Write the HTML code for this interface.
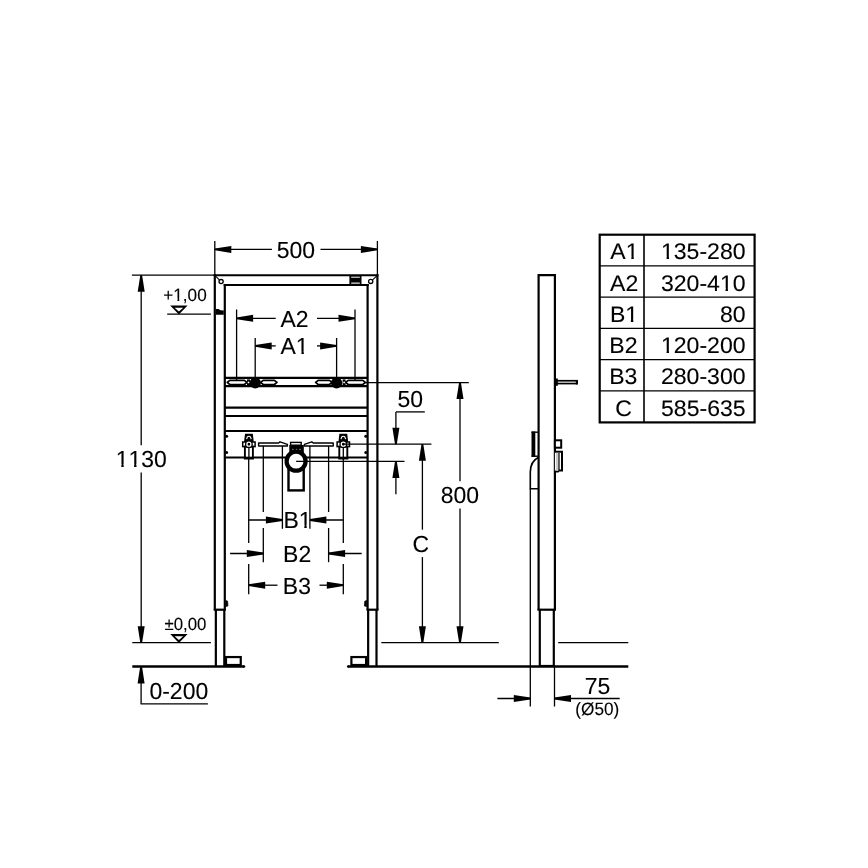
<!DOCTYPE html>
<html><head><meta charset="utf-8"><style>
html,body{margin:0;padding:0;background:#fff;width:868px;height:868px;overflow:hidden}
svg{display:block}
text{font-family:"Liberation Sans",sans-serif;fill:#000;font-kerning:none;font-feature-settings:"kern" 0;stroke:#000;stroke-width:0.12px;stroke-linejoin:round;text-rendering:geometricPrecision}
</style></head><body>
<svg width="868" height="868" viewBox="0 0 868 868" stroke="#000" fill="none" stroke-linecap="butt">
<defs><mask id="ft" maskUnits="userSpaceOnUse" x="0" y="0" width="868" height="868"><rect x="0" y="0" width="868" height="868" fill="#fff" stroke="none"/><rect transform="translate(115.72,466.73) scale(0.9900,1)" x="0.79" y="-2.66" width="4.84" height="5.66" fill="#000" stroke="none"/><rect transform="translate(115.72,466.73) scale(0.9900,1)" x="8.09" y="-2.66" width="4.66" height="5.66" fill="#000" stroke="none"/><rect transform="translate(115.72,466.73) scale(0.9900,1)" x="13.70" y="-2.66" width="4.84" height="5.66" fill="#000" stroke="none"/><rect transform="translate(115.72,466.73) scale(0.9900,1)" x="20.99" y="-2.66" width="4.66" height="5.66" fill="#000" stroke="none"/><rect transform="translate(163.27,300.53) scale(0.9700,1)" x="10.94" y="-2.03" width="3.69" height="5.03" fill="#000" stroke="none"/><rect transform="translate(163.27,300.53) scale(0.9700,1)" x="16.51" y="-2.03" width="3.55" height="5.03" fill="#000" stroke="none"/><rect transform="translate(283.40,527.83) scale(0.9900,1)" x="16.27" y="-2.66" width="4.84" height="5.66" fill="#000" stroke="none"/><rect transform="translate(283.40,527.83) scale(0.9900,1)" x="23.56" y="-2.66" width="4.66" height="5.66" fill="#000" stroke="none"/><rect transform="translate(280.52,354.08) scale(0.9900,1)" x="16.27" y="-2.66" width="4.84" height="5.66" fill="#000" stroke="none"/><rect transform="translate(280.52,354.08) scale(0.9900,1)" x="23.56" y="-2.66" width="4.66" height="5.66" fill="#000" stroke="none"/><rect transform="translate(610.37,259.32) scale(1.0200,1)" x="15.85" y="-2.59" width="4.71" height="5.59" fill="#000" stroke="none"/><rect transform="translate(610.37,259.32) scale(1.0200,1)" x="22.95" y="-2.59" width="4.54" height="5.59" fill="#000" stroke="none"/><rect transform="translate(660.96,259.32) scale(1.0200,1)" x="0.77" y="-2.59" width="4.71" height="5.59" fill="#000" stroke="none"/><rect transform="translate(660.96,259.32) scale(1.0200,1)" x="7.88" y="-2.59" width="4.54" height="5.59" fill="#000" stroke="none"/><rect transform="translate(660.96,290.57) scale(1.0200,1)" x="58.57" y="-2.59" width="4.71" height="5.59" fill="#000" stroke="none"/><rect transform="translate(660.96,290.57) scale(1.0200,1)" x="65.68" y="-2.59" width="4.54" height="5.59" fill="#000" stroke="none"/><rect transform="translate(609.90,321.82) scale(1.0200,1)" x="15.85" y="-2.59" width="4.71" height="5.59" fill="#000" stroke="none"/><rect transform="translate(609.90,321.82) scale(1.0200,1)" x="22.95" y="-2.59" width="4.54" height="5.59" fill="#000" stroke="none"/><rect transform="translate(660.96,353.07) scale(1.0200,1)" x="0.77" y="-2.59" width="4.71" height="5.59" fill="#000" stroke="none"/><rect transform="translate(660.96,353.07) scale(1.0200,1)" x="7.88" y="-2.59" width="4.54" height="5.59" fill="#000" stroke="none"/></mask></defs>
<g mask="url(#ft)">
<text transform="translate(276.77,257.82) scale(0.9900,1)" font-size="23.20">500</text>
<text transform="translate(115.72,466.73) scale(0.9900,1)" font-size="23.20">1130</text>
<text transform="translate(163.27,300.53) scale(0.9700,1)" font-size="17.70">+1,00</text>
<text transform="translate(164.42,630.38) scale(0.9500,1)" font-size="17.70">±0,00</text>
<text transform="translate(149.45,699.38) scale(0.9900,1)" font-size="23.20">0-200</text>
<text transform="translate(283.40,527.83) scale(0.9900,1)" font-size="23.20">B1</text>
<text transform="translate(283.09,562.44) scale(0.9900,1)" font-size="23.20">B2</text>
<text transform="translate(282.85,594.18) scale(0.9900,1)" font-size="23.20">B3</text>
<text transform="translate(280.51,326.54) scale(0.9900,1)" font-size="23.20">A2</text>
<text transform="translate(280.52,354.08) scale(0.9900,1)" font-size="23.20">A1</text>
<text transform="translate(397.52,406.68) scale(0.9900,1)" font-size="23.20">50</text>
<text transform="translate(412.39,551.62) scale(0.9900,1)" font-size="23.20">C</text>
<text transform="translate(440.79,503.33) scale(0.9900,1)" font-size="23.20">800</text>
<text transform="translate(584.76,694.26) scale(0.9900,1)" font-size="23.20">75</text>
<text transform="translate(575.35,714.73) scale(0.9600,1)" font-size="17.90">(Ø50)</text>
<text transform="translate(610.37,259.32) scale(1.0200,1)" font-size="22.60">A1</text>
<text transform="translate(660.96,259.32) scale(1.0200,1)" font-size="22.60">135-280</text>
<text transform="translate(610.01,290.68) scale(1.0200,1)" font-size="22.60">A2</text>
<text transform="translate(660.96,290.57) scale(1.0200,1)" font-size="22.60">320-410</text>
<text transform="translate(609.90,321.82) scale(1.0200,1)" font-size="22.60">B1</text>
<text transform="translate(719.98,321.82) scale(1.0200,1)" font-size="22.60">80</text>
<text transform="translate(609.28,353.18) scale(1.0200,1)" font-size="22.60">B2</text>
<text transform="translate(660.96,353.07) scale(1.0200,1)" font-size="22.60">120-200</text>
<text transform="translate(609.20,384.32) scale(1.0200,1)" font-size="22.60">B3</text>
<text transform="translate(660.96,384.32) scale(1.0200,1)" font-size="22.60">280-300</text>
<text transform="translate(615.36,415.57) scale(1.0200,1)" font-size="22.60">C</text>
<text transform="translate(661.02,415.57) scale(1.0200,1)" font-size="22.60">585-635</text>
</g>
<line x1="214.8" y1="241" x2="214.8" y2="276" stroke-width="1.3"/>
<line x1="377.4" y1="241" x2="377.4" y2="276" stroke-width="1.3"/>
<line x1="214.8" y1="249.4" x2="271.9" y2="249.4" stroke-width="1.3"/>
<line x1="320.5" y1="249.4" x2="377.4" y2="249.4" stroke-width="1.3"/>
<polygon points="214.80,248.50 231.30,245.90 231.30,252.90 214.80,250.30" stroke="none" fill="#000"/>
<polygon points="377.40,248.50 360.90,245.90 360.90,252.90 377.40,250.30" stroke="none" fill="#000"/>
<line x1="131.9" y1="275.2" x2="214.8" y2="275.2" stroke-width="1.3"/>
<line x1="141.2" y1="275.3" x2="141.2" y2="445.3" stroke-width="1.3"/>
<line x1="141.2" y1="472.4" x2="141.2" y2="642.7" stroke-width="1.3"/>
<polygon points="140.30,275.20 137.70,291.70 144.70,291.70 142.10,275.20" stroke="none" fill="#000"/>
<polygon points="140.30,642.70 137.70,626.20 144.70,626.20 142.10,642.70" stroke="none" fill="#000"/>
<path d="M170.2,305.5 L187.6,305.5 L178.89999999999998,314.4 Z M174.60,307.80 L183.20,307.80 L178.89999999999998,311.40 Z" stroke-width="0" fill="#000" stroke="none" fill-rule="evenodd"/>
<line x1="167.2" y1="314.1" x2="210.9" y2="314.1" stroke-width="1.2"/>
<path d="M170.2,633.9 L187.6,633.9 L178.89999999999998,642.9 Z M174.60,636.20 L183.20,636.20 L178.89999999999998,639.90 Z" stroke-width="0" fill="#000" stroke="none" fill-rule="evenodd"/>
<line x1="132.3" y1="642.7" x2="210.9" y2="642.7" stroke-width="1.2"/>
<polygon points="140.20,666.60 137.60,683.60 144.60,683.60 142.00,666.60" stroke="none" fill="#000"/>
<line x1="141.1" y1="666.6" x2="141.1" y2="703.8" stroke-width="1.3"/>
<line x1="140.6" y1="703.8" x2="207.9" y2="703.8" stroke-width="1.3"/>
<path d="M132.3,666.5 L244.0,666.5" stroke-width="2.6" fill="none" />
<circle cx="244.0" cy="666.5" r="1.3" stroke-width="0" fill="#000" stroke="none"/>
<path d="M348.2,666.5 L628.3,666.5" stroke-width="2.6" fill="none" />
<circle cx="348.2" cy="666.5" r="1.3" stroke-width="0" fill="#000" stroke="none"/>
<line x1="381.3" y1="642.7" x2="498.8" y2="642.7" stroke-width="1.2"/>
<line x1="558.2" y1="642.7" x2="628.3" y2="642.7" stroke-width="1.2"/>
<line x1="213.7" y1="275.15" x2="378.5" y2="275.15" stroke-width="2.0"/>
<line x1="214.8" y1="274.2" x2="214.8" y2="609.7" stroke-width="2.2"/>
<line x1="377.4" y1="274.2" x2="377.4" y2="609.7" stroke-width="2.2"/>
<line x1="224.8" y1="284.0" x2="224.8" y2="609.7" stroke-width="2.2"/>
<line x1="367.6" y1="284.0" x2="367.6" y2="609.7" stroke-width="2.2"/>
<line x1="223.7" y1="284.95" x2="368.7" y2="284.95" stroke-width="2.0"/>
<line x1="215.3" y1="275.8" x2="219.8" y2="280.3" stroke-width="1.1"/>
<circle cx="221.1" cy="281.6" r="2.1" stroke-width="1.3" fill="#fff"/>
<line x1="376.9" y1="275.8" x2="372.3" y2="280.2" stroke-width="1.1"/>
<circle cx="370.7" cy="281.4" r="2.1" stroke-width="1.3" fill="#fff"/>
<rect x="349.4" y="275.2" width="12.10" height="9.80" stroke-width="0" fill="#000" stroke="none"/>
<rect x="351.2" y="276.7" width="8.60" height="1.00" stroke-width="0" fill="#fff" stroke="none"/>
<rect x="351.2" y="282.4" width="8.60" height="1.50" stroke-width="0" fill="#bbb" stroke="none"/>
<path d="M215.8,309.0 L218.5,309.0 L220.5,310.2 L223.8,310.6 L223.8,314.8 L215.8,314.8 Z" stroke-width="0" fill="#000" stroke="none"/>
<line x1="224.8" y1="377.9" x2="367.6" y2="377.9" stroke-width="2.1"/>
<line x1="224.8" y1="386.1" x2="367.6" y2="386.1" stroke-width="2.4"/>
<path d="M227.2,382.4 L229.79999999999998,380.29999999999995 L244.4,380.29999999999995 L247.0,382.4 L244.4,384.5 L229.79999999999998,384.5 Z" stroke-width="1.7" fill="#fff" stroke-linejoin="round"/>
<path d="M260.6,382.4 L263.20000000000005,380.29999999999995 L274.4,380.29999999999995 L277.0,382.4 L274.4,384.5 L263.20000000000005,384.5 Z" stroke-width="1.7" fill="#fff" stroke-linejoin="round"/>
<path d="M315.6,382.4 L318.20000000000005,380.29999999999995 L329.4,380.29999999999995 L332.0,382.4 L329.4,384.5 L318.20000000000005,384.5 Z" stroke-width="1.7" fill="#fff" stroke-linejoin="round"/>
<path d="M345.6,382.4 L348.20000000000005,380.29999999999995 L362.79999999999995,380.29999999999995 L365.4,382.4 L362.79999999999995,384.5 L348.20000000000005,384.5 Z" stroke-width="1.7" fill="#fff" stroke-linejoin="round"/>
<rect x="247.0" y="379.4" width="3.00" height="5.80" stroke-width="0" fill="#000" stroke="none"/>
<rect x="342.6" y="379.4" width="3.00" height="5.80" stroke-width="0" fill="#000" stroke="none"/>
<circle cx="248.5" cy="382.4" r="0.9" stroke-width="0" fill="#fff" stroke="none"/>
<circle cx="344.1" cy="382.4" r="0.9" stroke-width="0" fill="#fff" stroke="none"/>
<circle cx="255.3" cy="382.9" r="5.6" stroke-width="0" fill="#000" stroke="none"/>
<circle cx="336.6" cy="382.9" r="5.6" stroke-width="0" fill="#000" stroke="none"/>
<line x1="364" y1="382.6" x2="468.8" y2="382.6" stroke-width="1.3"/>
<line x1="224.8" y1="407.7" x2="367.6" y2="407.7" stroke-width="2.2"/>
<line x1="224.8" y1="416.0" x2="367.6" y2="416.0" stroke-width="2.2"/>
<line x1="224.8" y1="431.0" x2="367.6" y2="431.0" stroke-width="2.2"/>
<line x1="224.8" y1="457.5" x2="367.6" y2="457.5" stroke-width="2.2"/>
<circle cx="226.6" cy="436.3" r="1.5" stroke-width="0" fill="#000" stroke="none"/>
<circle cx="365.8" cy="436.3" r="1.5" stroke-width="0" fill="#000" stroke="none"/>
<circle cx="226.6" cy="452.4" r="1.5" stroke-width="0" fill="#000" stroke="none"/>
<circle cx="365.8" cy="452.4" r="1.5" stroke-width="0" fill="#000" stroke="none"/>
<path d="M245.0,433.7 L252.8,433.7 L253.8,442.2 L244.0,442.2 Z" stroke-width="0" fill="#000" stroke="none"/>
<path d="M246.6,439.2 L247.3,437.0 Q248.9,435.59999999999997 250.5,437.0 L251.20000000000002,439.2" stroke-width="1.1" fill="none" stroke="#fff"/>
<rect x="242.70000000000002" y="442.0" width="12.40" height="4.60" stroke-width="1.5" fill="#fff"/>
<rect x="244.9" y="446.59999999999997" width="8.00" height="11.20" stroke-width="1.9" fill="#fff"/>
<line x1="248.9" y1="447.2" x2="248.9" y2="458.2" stroke-width="1.3"/>
<rect x="243.9" y="456.8" width="10.00" height="2.70" stroke-width="0" fill="#000" stroke="none"/>
<circle cx="248.9" cy="444.2" r="3.9" stroke-width="0" fill="#000" stroke="none"/>
<circle cx="248.9" cy="444.2" r="2.0" stroke-width="1.3" fill="none" stroke="#fff"/>
<circle cx="248.9" cy="444.4" r="0.9" stroke-width="0" fill="#000" stroke="none"/>
<path d="M339.40000000000003,433.7 L347.2,433.7 L348.2,442.2 L338.40000000000003,442.2 Z" stroke-width="0" fill="#000" stroke="none"/>
<path d="M341.0,439.2 L341.7,437.0 Q343.3,435.59999999999997 344.90000000000003,437.0 L345.6,439.2" stroke-width="1.1" fill="none" stroke="#fff"/>
<rect x="337.1" y="442.0" width="12.40" height="4.60" stroke-width="1.5" fill="#fff"/>
<rect x="339.3" y="446.59999999999997" width="8.00" height="11.20" stroke-width="1.9" fill="#fff"/>
<line x1="343.3" y1="447.2" x2="343.3" y2="458.2" stroke-width="1.3"/>
<rect x="338.3" y="456.8" width="10.00" height="2.70" stroke-width="0" fill="#000" stroke="none"/>
<circle cx="343.3" cy="444.2" r="3.9" stroke-width="0" fill="#000" stroke="none"/>
<circle cx="343.3" cy="444.2" r="2.0" stroke-width="1.3" fill="none" stroke="#fff"/>
<circle cx="343.3" cy="444.4" r="0.9" stroke-width="0" fill="#000" stroke="none"/>
<line x1="343.3" y1="444.2" x2="431.4" y2="444.2" stroke-width="1.3"/>
<path d="M258.6,443.0 L278.6,443.0 L280.0,441.8 L287.4,444.4 L287.4,446.0 L258.6,446.0 Z" stroke-width="1.4" fill="#fff" stroke-linejoin="round"/>
<path d="M333.2,443.0 L313.2,443.0 L311.8,441.8 L304.4,444.4 L304.4,446.0 L333.2,446.0 Z" stroke-width="1.4" fill="#fff" stroke-linejoin="round"/>
<rect x="290.6" y="442.4" width="10.60" height="2.80" stroke-width="1.4" fill="#fff"/>
<rect x="289.3" y="445.0" width="14.50" height="8.50" stroke-width="0" fill="#000" stroke="none"/>
<circle cx="293.0" cy="449.5" r="0.7" stroke-width="0" fill="#aaa" stroke="none"/>
<circle cx="296.5" cy="449.5" r="0.7" stroke-width="0" fill="#aaa" stroke="none"/>
<circle cx="300.0" cy="449.5" r="0.7" stroke-width="0" fill="#aaa" stroke="none"/>
<rect x="288.5" y="462" width="15.20" height="28.40" stroke-width="2.4" fill="#fff"/>
<circle cx="296.1" cy="461.2" r="9.5" stroke-width="4.2" fill="#fff"/>
<line x1="296.1" y1="461.4" x2="404.5" y2="461.4" stroke-width="1.3"/>
<line x1="248.7" y1="459" x2="248.7" y2="543" stroke-width="1.3"/>
<line x1="248.7" y1="564" x2="248.7" y2="594.3" stroke-width="1.3"/>
<line x1="263.3" y1="446" x2="263.3" y2="512" stroke-width="1.3"/>
<line x1="263.3" y1="528" x2="263.3" y2="562.2" stroke-width="1.3"/>
<line x1="282.4" y1="446" x2="282.4" y2="528.8" stroke-width="1.3"/>
<line x1="309.9" y1="446" x2="309.9" y2="528.8" stroke-width="1.3"/>
<line x1="328.6" y1="446" x2="328.6" y2="512" stroke-width="1.3"/>
<line x1="328.6" y1="528" x2="328.6" y2="562.2" stroke-width="1.3"/>
<line x1="343.3" y1="459" x2="343.3" y2="543" stroke-width="1.3"/>
<line x1="343.3" y1="564" x2="343.3" y2="594.3" stroke-width="1.3"/>
<line x1="248.7" y1="520" x2="282.4" y2="520" stroke-width="1.3"/>
<polygon points="282.40,519.10 265.90,516.50 265.90,523.50 282.40,520.90" stroke="none" fill="#000"/>
<line x1="309.9" y1="520" x2="343.3" y2="520" stroke-width="1.3"/>
<polygon points="309.90,519.10 326.40,516.50 326.40,523.50 309.90,520.90" stroke="none" fill="#000"/>
<line x1="230.1" y1="553.5" x2="263.3" y2="553.5" stroke-width="1.3"/>
<polygon points="263.30,552.60 246.80,550.00 246.80,557.00 263.30,554.40" stroke="none" fill="#000"/>
<line x1="328.6" y1="553.5" x2="361.7" y2="553.5" stroke-width="1.3"/>
<polygon points="328.60,552.60 345.10,550.00 345.10,557.00 328.60,554.40" stroke="none" fill="#000"/>
<line x1="248.7" y1="585.2" x2="277.5" y2="585.2" stroke-width="1.3"/>
<polygon points="248.70,584.30 265.20,581.70 265.20,588.70 248.70,586.10" stroke="none" fill="#000"/>
<line x1="319.5" y1="585.2" x2="343.3" y2="585.2" stroke-width="1.3"/>
<polygon points="343.30,584.30 326.80,581.70 326.80,588.70 343.30,586.10" stroke="none" fill="#000"/>
<line x1="236.6" y1="309.5" x2="236.6" y2="381" stroke-width="1.3"/>
<line x1="355" y1="309.5" x2="355" y2="381" stroke-width="1.3"/>
<line x1="236.6" y1="318.3" x2="275.7" y2="318.3" stroke-width="1.3"/>
<line x1="317.0" y1="318.3" x2="355" y2="318.3" stroke-width="1.3"/>
<polygon points="236.60,317.40 253.10,314.80 253.10,321.80 236.60,319.20" stroke="none" fill="#000"/>
<polygon points="355.00,317.40 338.50,314.80 338.50,321.80 355.00,319.20" stroke="none" fill="#000"/>
<line x1="255.2" y1="338" x2="255.2" y2="380" stroke-width="1.3"/>
<line x1="336.6" y1="338" x2="336.6" y2="380" stroke-width="1.3"/>
<line x1="255.2" y1="345.9" x2="275.7" y2="345.9" stroke-width="1.3"/>
<line x1="317.0" y1="345.9" x2="336.6" y2="345.9" stroke-width="1.3"/>
<polygon points="255.20,345.00 271.70,342.40 271.70,349.40 255.20,346.80" stroke="none" fill="#000"/>
<polygon points="336.60,345.00 320.10,342.40 320.10,349.40 336.60,346.80" stroke="none" fill="#000"/>
<line x1="213.7" y1="609.7" x2="225.9" y2="609.7" stroke-width="2.2"/>
<line x1="366.5" y1="609.7" x2="378.5" y2="609.7" stroke-width="2.2"/>
<line x1="215.85" y1="609.7" x2="215.85" y2="666.6" stroke-width="2.2"/>
<line x1="224.3" y1="609.7" x2="224.3" y2="666.6" stroke-width="2.2"/>
<line x1="368.15" y1="609.7" x2="368.15" y2="666.6" stroke-width="2.2"/>
<line x1="376.5" y1="609.7" x2="376.5" y2="666.6" stroke-width="2.2"/>
<path d="M225.8,600.6 L227.6,601.2 L227.9,606.0 L225.8,606.4 Z" stroke-width="0.8" fill="#000" />
<path d="M366.6,600.6 L364.8,601.2 L364.5,606.0 L366.6,606.4 Z" stroke-width="0.8" fill="#000" />
<rect x="226.0" y="657.05" width="14.75" height="7.95" stroke-width="2.2" fill="#fff"/>
<rect x="351.4" y="657.05" width="14.70" height="7.95" stroke-width="2.2" fill="#fff"/>
<rect x="539.8" y="664.9" width="14.00" height="2.10" stroke-width="0" fill="#000" stroke="none"/>
<line x1="395.9" y1="411.9" x2="424.8" y2="411.9" stroke-width="1.3"/>
<line x1="395.9" y1="411.9" x2="395.9" y2="444.2" stroke-width="1.3"/>
<polygon points="395.00,444.20 392.40,427.70 399.40,427.70 396.80,444.20" stroke="none" fill="#000"/>
<line x1="395.9" y1="461.6" x2="395.9" y2="494.3" stroke-width="1.3"/>
<polygon points="395.00,461.60 392.40,478.10 399.40,478.10 396.80,461.60" stroke="none" fill="#000"/>
<line x1="422.4" y1="444.2" x2="422.4" y2="529.7" stroke-width="1.3"/>
<line x1="422.4" y1="557.1" x2="422.4" y2="642.7" stroke-width="1.3"/>
<polygon points="421.50,444.20 418.90,460.70 425.90,460.70 423.30,444.20" stroke="none" fill="#000"/>
<polygon points="421.50,642.70 418.90,626.20 425.90,626.20 423.30,642.70" stroke="none" fill="#000"/>
<line x1="460.0" y1="382.6" x2="460.0" y2="481.2" stroke-width="1.3"/>
<line x1="460.0" y1="508.5" x2="460.0" y2="642.7" stroke-width="1.3"/>
<polygon points="459.10,382.60 456.50,399.10 463.50,399.10 460.90,382.60" stroke="none" fill="#000"/>
<polygon points="459.10,642.70 456.50,626.20 463.50,626.20 460.90,642.70" stroke="none" fill="#000"/>
<path d="M538.6,609.7 L538.6,275.2 L554.9,275.2 L554.9,609.7" stroke-width="2.2" fill="none" />
<line x1="537.5" y1="609.7" x2="556" y2="609.7" stroke-width="2.2"/>
<line x1="539.8" y1="609.7" x2="539.8" y2="666.6" stroke-width="2.2"/>
<line x1="553.8" y1="609.7" x2="553.8" y2="666.6" stroke-width="2.2"/>
<rect x="556.0" y="380.75" width="21.00" height="2.80" stroke-width="1.7" fill="#fff"/>
<rect x="555.0" y="378.5" width="2.80" height="7.30" stroke-width="0" fill="#000" stroke="none"/>
<path d="M575.8,379.9 L577.6,379.9 Q578.4,382.15 577.6,384.4 L575.8,384.4 Z" stroke-width="0" fill="#000" stroke="none"/>
<rect x="531.5" y="431.5" width="3.80" height="25.40" stroke-width="0" fill="#000" stroke="none"/>
<line x1="531.5" y1="432.2" x2="538.6" y2="432.2" stroke-width="1.4"/>
<line x1="531.5" y1="456.2" x2="538.6" y2="456.2" stroke-width="1.4"/>
<path d="M538.6,457.2 C533,460 530.3,465 530.3,472 L530.3,488.7 L538.6,488.7" stroke-width="1.6" fill="none" />
<line x1="530.3" y1="488.7" x2="530.3" y2="706.5" stroke-width="1.3"/>
<rect x="554.9" y="440.3" width="6.30" height="7.40" stroke-width="2.0" fill="#fff"/>
<path d="M554.9,451.8 L562.0,451.8 L562.0,470.4 L559.0,470.4 L558.0,471.6 L554.9,471.6" stroke-width="2.0" fill="#fff" />
<rect x="555.9" y="452.8" width="2.70" height="17.80" stroke-width="0" fill="#ccc" stroke="none"/>
<line x1="559.0" y1="453" x2="559.0" y2="470" stroke-width="1.2"/>
<line x1="554.5" y1="666.6" x2="554.5" y2="706.5" stroke-width="1.3"/>
<line x1="497.4" y1="698.5" x2="530.3" y2="698.5" stroke-width="1.3"/>
<polygon points="530.30,697.60 513.80,695.00 513.80,702.00 530.30,699.40" stroke="none" fill="#000"/>
<line x1="554.5" y1="698.5" x2="619.7" y2="698.5" stroke-width="1.3"/>
<polygon points="554.50,697.60 571.00,695.00 571.00,702.00 554.50,699.40" stroke="none" fill="#000"/>
<rect x="599.7" y="234.7" width="154.90" height="187.70" stroke-width="2.2" fill="none"/>
<line x1="644.0" y1="234.7" x2="644.0" y2="422.4" stroke-width="1.6"/>
<line x1="599.7" y1="265.95" x2="754.6" y2="265.95" stroke-width="1.3"/>
<line x1="599.7" y1="297.2" x2="754.6" y2="297.2" stroke-width="1.3"/>
<line x1="599.7" y1="328.45" x2="754.6" y2="328.45" stroke-width="1.3"/>
<line x1="599.7" y1="359.7" x2="754.6" y2="359.7" stroke-width="1.3"/>
<line x1="599.7" y1="390.95" x2="754.6" y2="390.95" stroke-width="1.3"/>
</svg>
</body></html>
